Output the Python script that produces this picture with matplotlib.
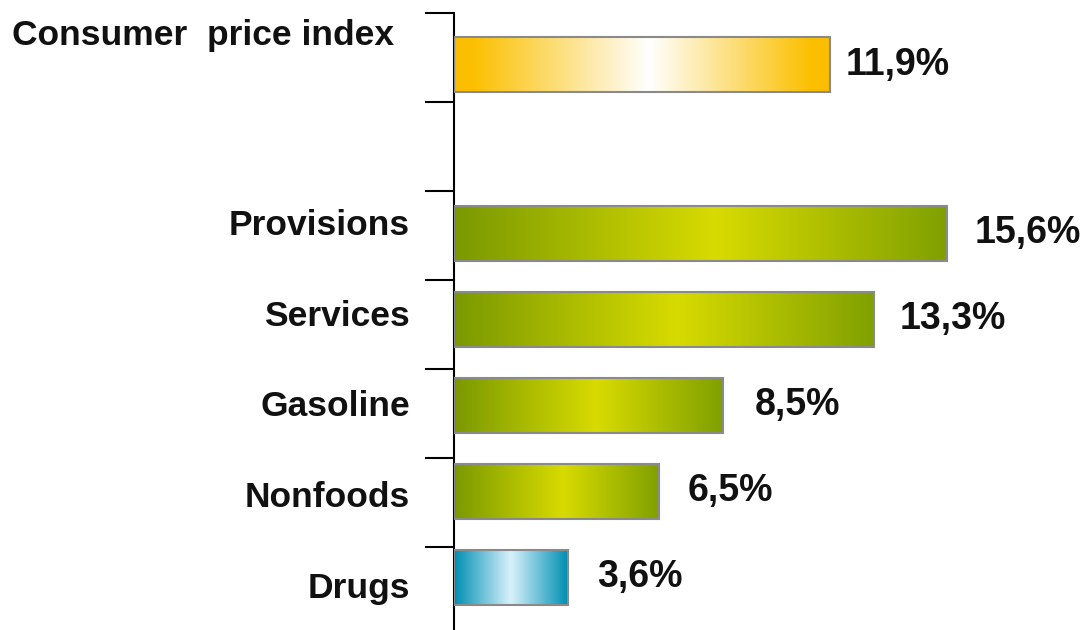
import matplotlib
matplotlib.use("Agg")
import matplotlib.pyplot as plt
import numpy as np
from matplotlib.colors import LinearSegmentedColormap

# === DATA ===
categories = ["Consumer  price index", "Provisions", "Services", "Gasoline", "Nonfoods", "Drugs"]
values = [11.9, 15.6, 13.3, 8.5, 6.5, 3.6]
styles = ["gold", "green", "green", "green", "green", "blue"]

# === STYLE ===
plt.rcParams['font.family'] = ['Liberation Sans', 'DejaVu Sans']

cmaps = {
    "gold": LinearSegmentedColormap.from_list(
        "gold", [(0, '#fbbd00'), (0.05, '#fbc000'), (0.52, '#ffffff'), (0.95, '#fbc000'), (1, '#fbbd00')]),
    "green": LinearSegmentedColormap.from_list(
        "green", [(0, '#7a9900'), (0.53, '#d8db00'), (1, '#80a000')]),
    "blue": LinearSegmentedColormap.from_list(
        "blue", [(0, '#008fb3'), (0.5, '#d8f1fb'), (1, '#008fb3')]),
}
label_pad = [11, 20, 18, 23, 20, 21]   # gap in points between bar end and value

# row positions: leave one (slightly narrower) empty slot after the total
rows = np.arange(len(categories), dtype=float)
rows[1:] += 0.96
slot = 1.035          # tick spacing in row units
tick_pos = -0.6 + slot * np.arange(7)

fig = plt.figure(figsize=(10.89, 6.30), dpi=100)
ax = fig.add_axes([454 / 1089, 0, 1 - 454 / 1089, 1 - 13 / 630])
ax.set_xlim(0, 20.1)
ax.set_ylim(6.576, -0.6)

bars = ax.barh(rows, values, height=0.64, color='none', edgecolor='#8a8a8a',
               linewidth=1.5, zorder=3)

grad = np.linspace(0, 1, 256).reshape(1, -1)
for bar, st in zip(bars, styles):
    x0, y0 = bar.get_x(), bar.get_y()
    w, h = bar.get_width(), bar.get_height()
    im = ax.imshow(grad, cmap=cmaps[st], aspect='auto', extent=[x0, x0 + w, y0 + h, y0],
                   zorder=2, interpolation='bicubic')
    im.set_clip_path(bar)

for r, v, pad in zip(rows, values, label_pad):
    ax.annotate(f"{v:.1f}".replace('.', ',') + '%', xy=(v, r), xytext=(pad, 0),
                textcoords='offset points', va='center', ha='left',
                fontsize=27, fontweight='bold', color='#111111')

# category labels
for i, name in enumerate(categories):
    if i == 0:
        fig.text(12 / 1089, 1 - 45 / 630, name, ha='left', va='baseline',
                 fontsize=25.5, fontweight='bold', color='#111111')
    else:
        k = i + 1
        ax.text(-44 / 31.6, -0.24 + 1.055 * k, name, ha='right', va='center',
                fontsize=25.5, fontweight='bold', color='#111111')

for s in ['top', 'right', 'bottom']:
    ax.spines[s].set_visible(False)
ax.spines['left'].set_linewidth(1.5)
ax.spines['left'].set_color('black')
ax.set_xticks([])
ax.set_yticks(tick_pos)
ax.set_yticklabels([])
ax.tick_params(axis='y', length=21, width=1.5, color='black', direction='out')
ax.patch.set_alpha(0)

fig.savefig("out.png", dpi=100)
